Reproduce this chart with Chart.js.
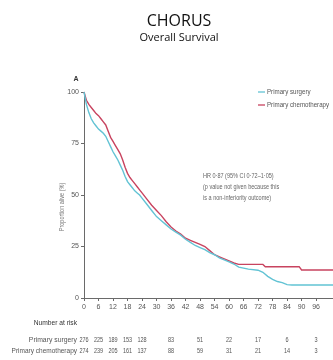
<!DOCTYPE html>
<html>
<head>
<meta charset="utf-8">
<script src="https://cdn.jsdelivr.net/npm/chart.js@4.4.1/dist/chart.umd.min.js"></script>
<style>
  html, body { margin: 0; padding: 0; background: #fff; }
  #wrap { position: relative; width: 333px; height: 360px; }
</style>
</head>
<body>
<div id="wrap"><canvas id="kmChart"></canvas></div>
<script>
const surgeryMonths = [0, 1, 2, 3, 4, 5, 6, 7, 8, 9, 10, 11, 12, 13, 14, 15, 16, 17, 18, 19, 20, 21, 22, 23, 24, 26, 28, 30, 32, 34, 36, 38, 40, 42, 44, 46, 48, 50, 52, 54, 56, 58, 60, 62, 64, 66, 68, 72, 74, 76, 78, 80, 82, 84, 86, 103];
const surgerySurvival = [100, 94, 90, 87, 85, 83.5, 82, 81, 80, 78.5, 76, 73.5, 71, 69, 67, 64.5, 62, 59, 56.5, 55, 53.5, 52, 51, 50, 48.5, 45.5, 42.5, 39.5, 37.5, 35.5, 33.5, 32, 30.5, 28.5, 27, 25.5, 24.5, 23.5, 22, 21, 19.5, 18.5, 17.5, 16.5, 15, 14.5, 14, 13.5, 12.5, 10.5, 9, 8, 7.5, 6.5, 6.3, 6.3];
const chemoMonths = [0, 1, 2, 3, 4, 5, 6, 7, 8, 9, 10, 11, 12, 13, 14, 15, 16, 17, 18, 19, 20, 21, 22, 23, 24, 26, 28, 30, 32, 34, 36, 38, 40, 42, 44, 46, 48, 50, 52, 54, 56, 58, 60, 62, 64, 74, 75, 89, 90, 103];
const chemoSurvival = [100, 96, 94, 92.5, 91, 89.5, 88.5, 87, 85.5, 84, 81, 78, 76, 74, 72, 70, 67, 63.5, 60.5, 58.5, 57, 55.5, 54, 52.5, 51, 48, 45, 42.5, 40, 37, 34.5, 32.5, 31, 29, 28, 27, 26, 25, 23, 21, 20, 19, 18, 17, 16.3, 16.3, 15.2, 15.2, 13.6, 13.6];

const xTicks = [0, 6, 12, 18, 24, 30, 36, 42, 48, 54, 60, 66, 72, 78, 84, 90, 96];
const yTicks = [0, 25, 50, 75, 100];

const riskMonths = [0, 6, 12, 18, 24, 36, 48, 60, 72, 84, 96];
const surgeryAtRisk = [276, 225, 189, 153, 128, 83, 51, 22, 17, 6, 3];
const chemoAtRisk = [274, 239, 205, 161, 137, 88, 59, 31, 21, 14, 3];

const tealColor = "#62c3d4";
const redColor = "#c8435f";
const axisColor = "#6a6a6a";
const textColor = "#555";
const sans = "'Liberation Sans', sans-serif";

function toPoints(xs, ys) {
  return xs.map(function (x, i) { return { x: x, y: ys[i] }; });
}

// draw text squeezed horizontally, like the condensed face of the original
function narrowText(ctx, text, x, y, squeeze) {
  ctx.save();
  ctx.translate(x, y);
  ctx.scale(squeeze, 1);
  ctx.fillText(text, 0, 0);
  ctx.restore();
}

const extras = {
  id: "extras",
  afterDraw: function (chart) {
    const ctx = chart.ctx;
    const xs = chart.scales.x;
    ctx.save();

    ctx.fillStyle = "#111";
    ctx.textAlign = "center";
    ctx.textBaseline = "middle";
    ctx.font = "16px 'Open Sans', sans-serif";
    ctx.fillText("CHORUS", 179, 21);
    ctx.font = "11px 'Open Sans', sans-serif";
    ctx.fillText("Overall Survival", 179, 38);

    ctx.fillStyle = "#333";
    ctx.font = "bold 7px " + sans;
    ctx.fillText("A", 76, 79);

    // y axis title
    ctx.save();
    ctx.translate(62, 207);
    ctx.rotate(-Math.PI / 2);
    ctx.fillStyle = "#777";
    ctx.font = "6.5px " + sans;
    narrowText(ctx, "Proportion alive (%)", 0, 0, 0.85);
    ctx.restore();

    // legend
    ctx.lineWidth = 1.3;
    ctx.strokeStyle = tealColor;
    ctx.beginPath(); ctx.moveTo(258, 92); ctx.lineTo(265, 92); ctx.stroke();
    ctx.strokeStyle = redColor;
    ctx.beginPath(); ctx.moveTo(258, 105); ctx.lineTo(265, 105); ctx.stroke();
    ctx.fillStyle = textColor;
    ctx.textAlign = "left";
    ctx.font = "6.5px " + sans;
    narrowText(ctx, "Primary surgery", 267, 92, 0.95);
    narrowText(ctx, "Primary chemotherapy", 267, 105, 0.95);

    // HR note
    ctx.fillStyle = "#666";
    ctx.font = "6.5px " + sans;
    narrowText(ctx, "HR 0\u00b787 (95% CI 0\u00b772\u20131\u00b705)", 203, 176, 0.85);
    narrowText(ctx, "(p value not given because this", 203, 187, 0.85);
    narrowText(ctx, "is a non-inferiority outcome)", 203, 198, 0.85);

    // number at risk
    ctx.fillStyle = "#333";
    ctx.textAlign = "right";
    ctx.font = "7px " + sans;
    narrowText(ctx, "Number at risk", 77, 323, 0.95);
    ctx.fillStyle = textColor;
    ctx.font = "6.5px " + sans;
    narrowText(ctx, "Primary surgery", 77, 340, 1.05);
    narrowText(ctx, "Primary chemotherapy", 77, 351, 1.0);
    ctx.textAlign = "center";
    riskMonths.forEach(function (m, i) {
      const px = xs.getPixelForValue(m);
      narrowText(ctx, String(surgeryAtRisk[i]), px, 340, 0.85);
      narrowText(ctx, String(chemoAtRisk[i]), px, 351, 0.85);
    });
    ctx.restore();
  }
};

new Chart(document.getElementById("kmChart").getContext("2d"), {
  type: "line",
  data: {
    datasets: [
      {
        label: "Primary surgery",
        data: toPoints(surgeryMonths, surgerySurvival),
        borderColor: tealColor,
        borderWidth: 1.4,
        pointRadius: 0,
        tension: 0,
        fill: false,
        clip: false,
      },
      {
        label: "Primary chemotherapy",
        data: toPoints(chemoMonths, chemoSurvival),
        borderColor: redColor,
        borderWidth: 1.4,
        pointRadius: 0,
        tension: 0,
        fill: false,
        clip: false,
      },
    ],
  },
  options: {
    responsive: true,
    maintainAspectRatio: false,
    animation: false,
    layout: { padding: { top: 92, left: 0, right: 0, bottom: 0 } },
    plugins: {
      legend: { display: false },
      tooltip: { enabled: false },
      title: { display: false },
    },
    scales: {
      x: {
        type: "linear",
        min: 0,
        max: 103,
        afterFit: function (s) { s.height = 62; },
        afterBuildTicks: function (s) { s.ticks = xTicks.map(function (v) { return { value: v }; }); },
        border: { color: axisColor, width: 1 },
        grid: { drawOnChartArea: false, color: axisColor, tickLength: 3 },
        ticks: {
          color: textColor,
          padding: 2,
          maxRotation: 0,
          autoSkip: false,
          font: { family: sans, size: 7 },
        },
      },
      y: {
        min: 0,
        max: 100,
        afterFit: function (s) { s.width = 84; },
        afterBuildTicks: function (s) { s.ticks = yTicks.map(function (v) { return { value: v }; }); },
        border: { color: axisColor, width: 1 },
        grid: { drawOnChartArea: false, color: axisColor, tickLength: 3 },
        ticks: {
          color: textColor,
          padding: 2,
          font: { family: sans, size: 7 },
        },
      },
    },
  },
  plugins: [extras],
});
</script>
</body>
</html>
